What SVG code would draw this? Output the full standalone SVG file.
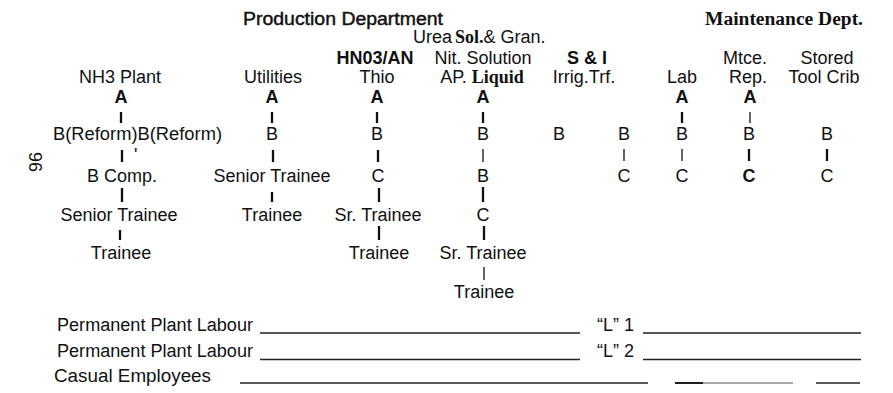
<svg xmlns="http://www.w3.org/2000/svg" width="893" height="393" viewBox="0 0 893 393">
  <style>
    .t  { font-family: "Liberation Sans", Arial, sans-serif; font-size: 18px; fill: #111; }
    .m  { text-anchor: middle; }
    .bd { font-weight: bold; }
    .md { stroke: #111; stroke-width: 0.45; }
    .sf { font-family: "Liberation Serif", "Times New Roman", serif; font-weight: bold; }
    .bar  { stroke: #111; stroke-width: 2.3; fill: none; }
    .thin { stroke: #111; stroke-width: 1.3; fill: none; }
    .rule { stroke: #222; stroke-width: 1.4; fill: none; }
  </style>
  <rect width="893" height="393" fill="#fff"/>

  <!-- page number printed sideways in the margin -->
  <text class="t" font-size="16" transform="translate(29,152) rotate(90)">96</text>

  <!-- department headings -->
  <g id="hdr-production">
    <text class="t md" x="243" y="25" font-size="18.5" textLength="200" lengthAdjust="spacingAndGlyphs">Production Department</text>
  </g>
  <g id="hdr-maintenance">
    <text class="t sf" x="705" y="25" textLength="158" lengthAdjust="spacingAndGlyphs">Maintenance Dept.</text>
  </g>

  <!-- column headings -->
  <g id="col-nh3"><text class="t m" x="120" y="83">NH3 Plant</text></g>
  <g id="col-utilities"><text class="t m" x="273" y="83">Utilities</text></g>
  <g id="col-thio">
    <text class="t m bd" x="375" y="64">HN03/AN</text>
    <text class="t m" x="377" y="83">Thio</text>
  </g>
  <g id="col-urea">
    <text class="t" x="413" y="43">Urea<tspan class="sf" dx="3">Sol.</tspan>&amp; Gran.</text>
    <text class="t m" x="483" y="64">Nit. Solution</text>
    <text class="t m" x="482" y="83">AP. <tspan class="sf">Liquid</tspan></text>
  </g>
  <g id="col-si">
    <text class="t m bd" x="587" y="64">S &amp; I</text>
    <text class="t m" x="584" y="83">Irrig.Trf.</text>
  </g>
  <g id="col-lab"><text class="t m" x="682" y="83">Lab</text></g>
  <g id="col-mtce">
    <text class="t m" x="745" y="64">Mtce.</text>
    <text class="t m" x="748" y="83">Rep.</text>
  </g>
  <g id="col-stored">
    <text class="t m" x="827" y="64">Stored</text>
    <text class="t m" x="824" y="83">Tool Crib</text>
  </g>

  <!-- NH3 Plant grades -->
  <g id="nh3-a"><text class="t m bd" x="121" y="103">A</text></g>
  <g id="nh3-b"><text class="t" x="53" y="140" textLength="169" lengthAdjust="spacingAndGlyphs">B(Reform)B(Reform)</text></g>
  <g id="nh3-tick"><text class="t" x="134" y="161" font-size="13">'</text></g>
  <g id="nh3-bcomp"><text class="t" x="87" y="182">B Comp.</text></g>
  <g id="nh3-senior"><text class="t m" x="119" y="221">Senior Trainee</text></g>
  <g id="nh3-trainee"><text class="t m" x="121" y="259">Trainee</text></g>

  <!-- Utilities grades -->
  <g id="util-a"><text class="t m bd" x="272" y="103">A</text></g>
  <g id="util-b"><text class="t m" x="272" y="140">B</text></g>
  <g id="util-senior"><text class="t m" x="272" y="182">Senior Trainee</text></g>
  <g id="util-trainee"><text class="t m" x="272" y="221">Trainee</text></g>

  <!-- Thio grades -->
  <g id="thio-a"><text class="t m bd" x="377" y="103">A</text></g>
  <g id="thio-b"><text class="t m" x="377" y="140">B</text></g>
  <g id="thio-c"><text class="t m" x="378" y="182">C</text></g>
  <g id="thio-sr"><text class="t m" x="378" y="221">Sr. Trainee</text></g>
  <g id="thio-trainee"><text class="t m" x="379" y="259">Trainee</text></g>

  <!-- Urea / AP Liquid grades -->
  <g id="ap-a"><text class="t m bd" x="483" y="103">A</text></g>
  <g id="ap-b1"><text class="t m" x="483" y="140">B</text></g>
  <g id="ap-b2"><text class="t m" x="483" y="182">B</text></g>
  <g id="ap-c"><text class="t m" x="483" y="221">C</text></g>
  <g id="ap-sr"><text class="t m" x="483" y="259">Sr. Trainee</text></g>
  <g id="ap-trainee"><text class="t m" x="484" y="298">Trainee</text></g>

  <!-- S & I grades -->
  <g id="si-b1"><text class="t m" x="559" y="140">B</text></g>
  <g id="si-b2"><text class="t m" x="624" y="140">B</text></g>
  <g id="si-c"><text class="t m" x="624" y="182">C</text></g>

  <!-- Lab grades -->
  <g id="lab-a"><text class="t m bd" x="682" y="103">A</text></g>
  <g id="lab-b"><text class="t m" x="682" y="140">B</text></g>
  <g id="lab-c"><text class="t m" x="682" y="182">C</text></g>

  <!-- Maintenance repair grades -->
  <g id="rep-a"><text class="t m bd" x="750" y="103">A</text></g>
  <g id="rep-b"><text class="t m" x="749" y="140">B</text></g>
  <g id="rep-c"><text class="t m bd" x="749" y="182">C</text></g>

  <!-- Stores grades -->
  <g id="stored-b"><text class="t m" x="827" y="140">B</text></g>
  <g id="stored-c"><text class="t m" x="827" y="182">C</text></g>

  <!-- vertical links between grades -->
  <g id="connectors">
    <!-- A to B -->
    <line class="bar" x1="121" y1="112" x2="121" y2="123"/>
    <line class="bar" x1="272" y1="112" x2="272" y2="123"/>
    <line class="bar" x1="377" y1="112" x2="377" y2="123"/>
    <line class="bar" x1="483" y1="112" x2="483" y2="123"/>
    <line class="bar" x1="682" y1="112" x2="682" y2="123"/>
    <line class="thin" x1="750" y1="112" x2="750" y2="123"/>
    <!-- B to next -->
    <line class="bar" x1="122" y1="150" x2="122" y2="162"/>
    <line class="bar" x1="273" y1="150" x2="273" y2="162"/>
    <line class="bar" x1="378" y1="150" x2="378" y2="162"/>
    <line class="thin" x1="483" y1="149" x2="483" y2="162"/>
    <line class="thin" x1="624" y1="149" x2="624" y2="161"/>
    <line class="thin" x1="682" y1="149" x2="682" y2="161"/>
    <line class="bar" x1="749" y1="149" x2="749" y2="161"/>
    <line class="bar" x1="827" y1="149" x2="827" y2="161"/>
    <!-- third step -->
    <line class="bar" x1="122" y1="188" x2="122" y2="202"/>
    <line class="bar" x1="272" y1="192" x2="272" y2="202"/>
    <line class="bar" x1="379" y1="188" x2="379" y2="202"/>
    <line class="bar" x1="483" y1="187" x2="483" y2="202"/>
    <!-- fourth step -->
    <line class="bar" x1="120" y1="230" x2="120" y2="240"/>
    <line class="bar" x1="379" y1="226" x2="379" y2="240"/>
    <line class="bar" x1="484" y1="226" x2="484" y2="240"/>
    <!-- fifth step -->
    <line class="thin" x1="484" y1="267" x2="484" y2="280"/>
  </g>

  <!-- labour totals -->
  <g id="labour-1">
    <text class="t" x="57" y="331" textLength="196" lengthAdjust="spacingAndGlyphs">Permanent Plant Labour</text>
    <line class="rule" x1="260" y1="333" x2="580" y2="333"/>
    <text class="t" x="597" y="331">“L” 1</text>
    <line class="rule" x1="643" y1="333" x2="861" y2="333"/>
  </g>
  <g id="labour-2">
    <text class="t" x="57" y="357" textLength="196" lengthAdjust="spacingAndGlyphs">Permanent Plant Labour</text>
    <line class="rule" x1="260" y1="359.5" x2="580" y2="359.5"/>
    <text class="t" x="597" y="357">“L” 2</text>
    <line class="rule" x1="643" y1="359.5" x2="861" y2="359.5"/>
  </g>
  <g id="casual">
    <text class="t" x="54" y="382" textLength="157" lengthAdjust="spacingAndGlyphs">Casual Employees</text>
    <line class="rule" x1="240" y1="383" x2="648" y2="383"/>
    <line stroke="#111" stroke-width="1.9" x1="675" y1="383" x2="703" y2="383"/>
    <line stroke="#555" stroke-width="1.1" x1="703" y1="383" x2="793" y2="383"/>
    <line class="rule" x1="816" y1="383" x2="860" y2="383"/>
  </g>
</svg>
